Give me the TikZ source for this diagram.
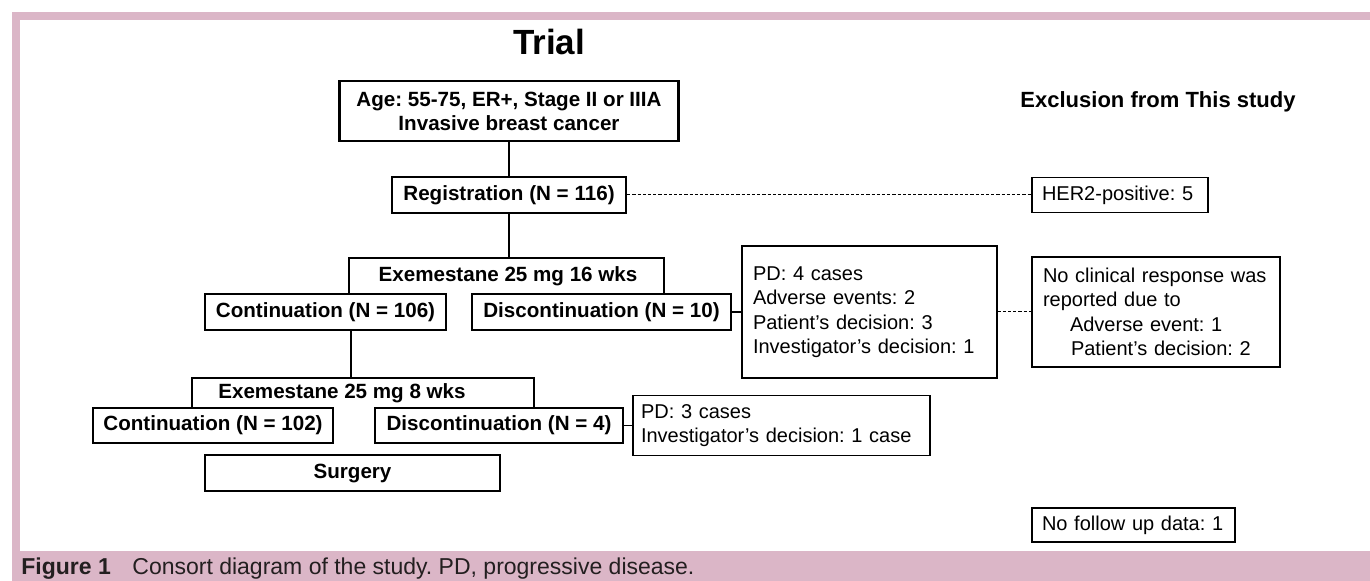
\documentclass[tikz,border=0pt]{standalone}
\usepackage{fontspec}
\setmainfont{Liberation Sans}
\usepackage{tikz}
\frenchspacing
\definecolor{framepink}{RGB}{219,182,199}
\definecolor{capgray}{RGB}{35,31,32}
\tikzset{mainbox/.style={draw, line width=1.15pt, font=\bfseries\fontsize{10.3}{12}\selectfont, inner sep=0pt, align=center}}
\tikzset{notebox/.style={draw, line width=0.65pt, font=\fontsize{10}{12.25}\selectfont, align=left, inner xsep=5.5pt, inner ysep=0pt}}
\tikzset{link/.style={line width=0.9pt}}
\tikzset{sidelink/.style={line width=0.6pt}}
\tikzset{dashlink/.style={line width=0.5pt, dash pattern=on 1.6pt off 1pt}}
\tikzset{capfont/.style={inner sep=0pt, anchor=base west, text=capgray}}

\begin{document}
\begin{tikzpicture}[x=0.5pt, y=-0.5pt]

\clip (0,0) rectangle (1370,581);
\fill[white] (0,0) rectangle (1370,581);
\fill[framepink] (12,12) rectangle (1370,581);
\fill[white] (20,20) rectangle (1370,551);

\node[font=\bfseries\fontsize{17.5}{20}\selectfont, anchor=base, inner sep=0pt] (trial) at (549,55) {Trial};
\node[font=\bfseries\fontsize{11}{13}\selectfont, anchor=base, inner sep=0pt] (excl) at (1158,108) {Exclusion from This study};

\node[mainbox, minimum width=169.5pt, minimum height=30pt] (age) at (509,111) {Age: 55-75, ER+, Stage II or IIIA\\Invasive breast cancer};
\node[mainbox, minimum width=117pt, minimum height=18pt] (reg) at (509,195) {Registration (N = 116)};
\node[notebox, inner xsep=5pt, text width=78pt, minimum height=17.5pt] (her2) at (1120,195) {HER2-positive: 5};

\node[font=\bfseries\fontsize{10.3}{12}\selectfont, inner sep=0pt] (exe16) at (508,276) {Exemestane 25 mg 16 wks};
\node[mainbox, minimum width=120.5pt, minimum height=18pt] (cont106) at (325.5,312) {Continuation (N = 106)};
\node[mainbox, minimum width=129.5pt, minimum height=18pt] (disc10) at (601.5,312) {Discontinuation (N = 10)};
\node[notebox, text width=116.5pt, minimum height=66pt] (pd4) at (869.5,312) {PD: 4 cases\\Adverse events: 2\\Patient’s decision: 3\\Investigator’s decision: 1};
\node[notebox, text width=113pt, minimum height=55pt] (noresp) at (1156,312) {No clinical response was\\reported due to\\\hspace*{13.5pt}Adverse event: 1\\\hspace*{14pt}Patient’s decision: 2};

\node[font=\bfseries\fontsize{10.3}{12}\selectfont, inner sep=0pt] (exe8) at (342,393) {Exemestane 25 mg 8 wks};
\node[mainbox, minimum width=120pt, minimum height=17.5pt] (cont102) at (213,425.5) {Continuation (N = 102)};
\node[mainbox, minimum width=124pt, minimum height=17.5pt] (disc4) at (499,425.5) {Discontinuation (N = 4)};
\node[notebox, inner xsep=4pt, text width=140.5pt, minimum height=30pt, font=\fontsize{10}{12}\selectfont] (pd3) at (781.5,425.5) {PD: 3 cases\\Investigator’s decision: 1 case};
\node[mainbox, minimum width=147.5pt, minimum height=18pt] (surgery) at (352.5,473) {Surgery};
\node[notebox, inner xsep=5pt, text width=91.5pt, minimum height=17pt] (nofollow) at (1133.5,525) {No follow up data: 1};

\coordinate (e16l) at (349,258);
\coordinate (e16r) at (664,258);
\coordinate (e8top) at (351,378);
\coordinate (e8l) at (192,378);
\coordinate (e8r) at (534,378);

\draw[link] (age) -- (reg);
\draw[link] (reg) -- (reg.south |- e16l);
\draw[dashlink] (reg) -- (her2);
\draw[line width=1.15pt] (cont106.north -| e16l) -- (e16l) -- (e16r) -- (disc10.north -| e16r);
\draw[sidelink] (disc10) -- (pd4);
\draw[dashlink] (pd4) -- (noresp);
\draw[link] (cont106.south -| e8top) -- (e8top);
\draw[line width=1.15pt] (cont102.north -| e8l) -- (e8l) -- (e8r) -- (disc4.north -| e8r);
\draw[sidelink] (disc4) -- (pd3);

\node[capfont, font=\bfseries\fontsize{11.5}{14}\selectfont] (fig) at (21,575) {Figure 1};
\node[capfont, font=\fontsize{11.5}{14}\selectfont] (capt) at (132,575) {Consort diagram of the study. PD, progressive disease.};

\end{tikzpicture}
\end{document}
